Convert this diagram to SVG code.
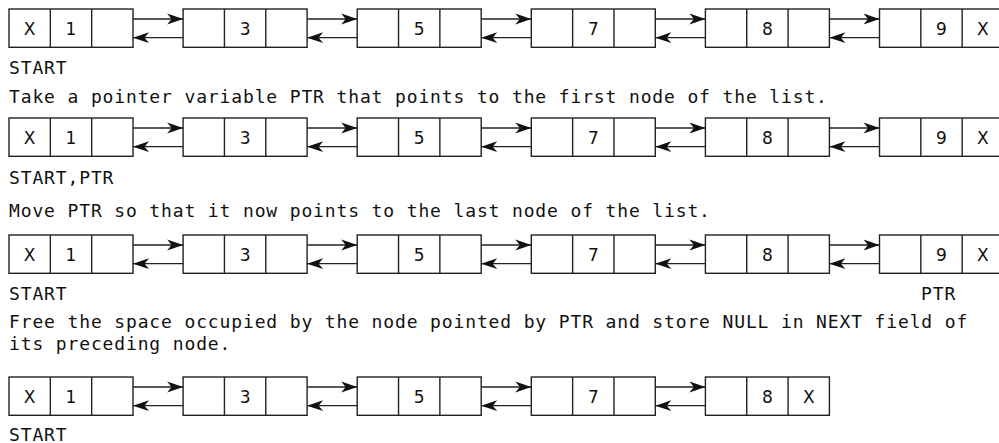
<svg xmlns="http://www.w3.org/2000/svg" width="999" height="443" viewBox="0 0 999 443">
<style>
.box{fill:#fff;stroke:#222;stroke-width:1.4}
.div{stroke:#222;stroke-width:1.4}
.val{font-family:"DejaVu Sans",sans-serif;font-size:17px;fill:#111;text-anchor:middle}
.txt{font-family:"DejaVu Sans Mono",monospace;font-size:18px;letter-spacing:0.86px;fill:#111}
.con line{stroke:#222;stroke-width:1.3;marker-end:url(#arr)}
</style>
<defs>
<marker id="arr" viewBox="-17 -6 18 12" refX="0" refY="0" markerWidth="18" markerHeight="12" markerUnits="userSpaceOnUse" orient="auto">
<path d="M0,0 L-16,-5.4 L-11.5,0 L-16,5.4 Z" fill="#111"/>
</marker>
<g id="cell3">
<rect class="box" x="0" y="0" width="124" height="38.3"/>
<line class="div" x1="41.33" y1="0" x2="41.33" y2="38.3"/>
<line class="div" x1="82.67" y1="0" x2="82.67" y2="38.3"/>
</g>
</defs>
<rect width="999" height="443" fill="#fff"/>

<!-- Row 1 -->
<g id="r1n1" transform="translate(9,9)"><use href="#cell3"/><text class="val" x="20.67" y="26.2">X</text><text class="val" x="62" y="26.2">1</text></g>
<g id="r1n2" transform="translate(183.1,9)"><use href="#cell3"/><text class="val" x="62" y="26.2">3</text></g>
<g id="r1n3" transform="translate(357.2,9)"><use href="#cell3"/><text class="val" x="62" y="26.2">5</text></g>
<g id="r1n4" transform="translate(531.3,9)"><use href="#cell3"/><text class="val" x="62" y="26.2">7</text></g>
<g id="r1n5" transform="translate(705.4,9)"><use href="#cell3"/><text class="val" x="62" y="26.2">8</text></g>
<g id="r1n6" transform="translate(879.5,9)"><use href="#cell3"/><text class="val" x="62" y="26.2">9</text><text class="val" x="103.33" y="26.2">X</text></g>

<!-- Row 2 -->
<g id="r2n1" transform="translate(9,118)"><use href="#cell3"/><text class="val" x="20.67" y="26.2">X</text><text class="val" x="62" y="26.2">1</text></g>
<g id="r2n2" transform="translate(183.1,118)"><use href="#cell3"/><text class="val" x="62" y="26.2">3</text></g>
<g id="r2n3" transform="translate(357.2,118)"><use href="#cell3"/><text class="val" x="62" y="26.2">5</text></g>
<g id="r2n4" transform="translate(531.3,118)"><use href="#cell3"/><text class="val" x="62" y="26.2">7</text></g>
<g id="r2n5" transform="translate(705.4,118)"><use href="#cell3"/><text class="val" x="62" y="26.2">8</text></g>
<g id="r2n6" transform="translate(879.5,118)"><use href="#cell3"/><text class="val" x="62" y="26.2">9</text><text class="val" x="103.33" y="26.2">X</text></g>

<!-- Row 3 -->
<g id="r3n1" transform="translate(9,235)"><use href="#cell3"/><text class="val" x="20.67" y="26.2">X</text><text class="val" x="62" y="26.2">1</text></g>
<g id="r3n2" transform="translate(183.1,235)"><use href="#cell3"/><text class="val" x="62" y="26.2">3</text></g>
<g id="r3n3" transform="translate(357.2,235)"><use href="#cell3"/><text class="val" x="62" y="26.2">5</text></g>
<g id="r3n4" transform="translate(531.3,235)"><use href="#cell3"/><text class="val" x="62" y="26.2">7</text></g>
<g id="r3n5" transform="translate(705.4,235)"><use href="#cell3"/><text class="val" x="62" y="26.2">8</text></g>
<g id="r3n6" transform="translate(879.5,235)"><use href="#cell3"/><text class="val" x="62" y="26.2">9</text><text class="val" x="103.33" y="26.2">X</text></g>

<!-- Row 4 -->
<g id="r4n1" transform="translate(9,377)"><use href="#cell3"/><text class="val" x="20.67" y="26.2">X</text><text class="val" x="62" y="26.2">1</text></g>
<g id="r4n2" transform="translate(183.1,377)"><use href="#cell3"/><text class="val" x="62" y="26.2">3</text></g>
<g id="r4n3" transform="translate(357.2,377)"><use href="#cell3"/><text class="val" x="62" y="26.2">5</text></g>
<g id="r4n4" transform="translate(531.3,377)"><use href="#cell3"/><text class="val" x="62" y="26.2">7</text></g>
<g id="r4n5" transform="translate(705.4,377)"><use href="#cell3"/><text class="val" x="62" y="26.2">8</text><text class="val" x="103.33" y="26.2">X</text></g>

<g id="connectors" class="con">
<line x1="133" y1="19" x2="183.1" y2="19"/><line x1="183.1" y1="37.7" x2="133" y2="37.7"/>
<line x1="307.1" y1="19" x2="357.2" y2="19"/><line x1="357.2" y1="37.7" x2="307.1" y2="37.7"/>
<line x1="481.2" y1="19" x2="531.3" y2="19"/><line x1="531.3" y1="37.7" x2="481.2" y2="37.7"/>
<line x1="655.3" y1="19" x2="705.4" y2="19"/><line x1="705.4" y1="37.7" x2="655.3" y2="37.7"/>
<line x1="829.4" y1="19" x2="879.5" y2="19"/><line x1="879.5" y1="37.7" x2="829.4" y2="37.7"/>

<line x1="133" y1="128" x2="183.1" y2="128"/><line x1="183.1" y1="146.7" x2="133" y2="146.7"/>
<line x1="307.1" y1="128" x2="357.2" y2="128"/><line x1="357.2" y1="146.7" x2="307.1" y2="146.7"/>
<line x1="481.2" y1="128" x2="531.3" y2="128"/><line x1="531.3" y1="146.7" x2="481.2" y2="146.7"/>
<line x1="655.3" y1="128" x2="705.4" y2="128"/><line x1="705.4" y1="146.7" x2="655.3" y2="146.7"/>
<line x1="829.4" y1="128" x2="879.5" y2="128"/><line x1="879.5" y1="146.7" x2="829.4" y2="146.7"/>

<line x1="133" y1="245" x2="183.1" y2="245"/><line x1="183.1" y1="263.7" x2="133" y2="263.7"/>
<line x1="307.1" y1="245" x2="357.2" y2="245"/><line x1="357.2" y1="263.7" x2="307.1" y2="263.7"/>
<line x1="481.2" y1="245" x2="531.3" y2="245"/><line x1="531.3" y1="263.7" x2="481.2" y2="263.7"/>
<line x1="655.3" y1="245" x2="705.4" y2="245"/><line x1="705.4" y1="263.7" x2="655.3" y2="263.7"/>
<line x1="829.4" y1="245" x2="879.5" y2="245"/><line x1="879.5" y1="263.7" x2="829.4" y2="263.7"/>

<line x1="133" y1="387" x2="183.1" y2="387"/><line x1="183.1" y1="405.7" x2="133" y2="405.7"/>
<line x1="307.1" y1="387" x2="357.2" y2="387"/><line x1="357.2" y1="405.7" x2="307.1" y2="405.7"/>
<line x1="481.2" y1="387" x2="531.3" y2="387"/><line x1="531.3" y1="405.7" x2="481.2" y2="405.7"/>
<line x1="655.3" y1="387" x2="705.4" y2="387"/><line x1="705.4" y1="405.7" x2="655.3" y2="405.7"/>
</g>

<g id="texts">
<text class="txt" x="9" y="74">START</text>
<text class="txt" x="9" y="103">Take a pointer variable PTR that points to the first node of the list.</text>
<text class="txt" x="9" y="184">START,PTR</text>
<text class="txt" x="9" y="217">Move PTR so that it now points to the last node of the list.</text>
<text class="txt" x="9" y="300">START</text>
<text class="txt" x="921" y="300">PTR</text>
<text class="txt" x="9" y="327.5">Free the space occupied by the node pointed by PTR and store NULL in NEXT field of</text>
<text class="txt" x="9" y="349.5">its preceding node.</text>
<text class="txt" x="9" y="440.5">START</text>
</g>
</svg>
